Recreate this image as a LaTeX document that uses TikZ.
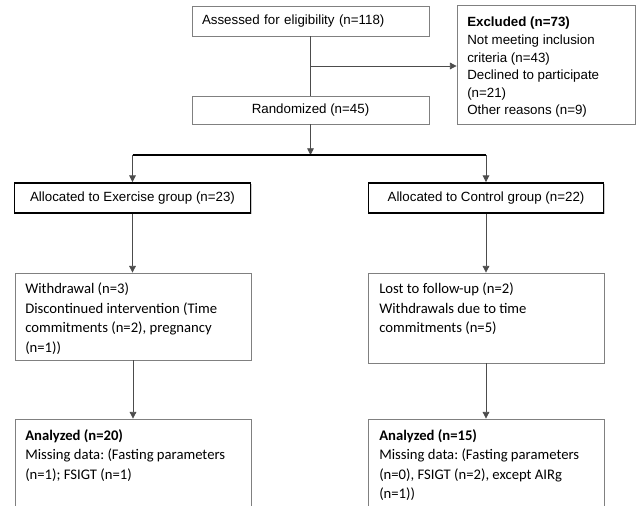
\documentclass[tikz,border=0pt]{standalone}
\usepackage{fontspec}
\setmainfont{Liberation Sans}
\newfontfamily\calibfont{Carlito}
\usetikzlibrary{arrows.meta,shadows}
\frenchspacing

\tikzset{
    box/.style={draw=black!50,line width=0.6pt,inner sep=0pt,font=\fontsize{10}{12}\selectfont},
    allocbox/.style={draw=black,fill=white,line width=1.4pt,inner sep=0pt,font=\fontsize{10}{12}\selectfont,
        drop shadow={shadow xshift=0.9pt,shadow yshift=-0.9pt,fill=black!35,opacity=0.6}},
    arialtxt/.style={anchor=north west,inner sep=0pt,align=left,font=\fontsize{10}{13.2}\selectfont},
    calibtxt/.style={anchor=north west,inner sep=0pt,align=left,font=\calibfont\fontsize{11}{14.6}\selectfont},
    ln/.style={draw=black!70,line width=0.6pt},
    arr/.style={ln,-{Triangle[length=5pt,width=5pt]}}
}

\begin{document}
\begin{tikzpicture}[x=0.75pt,y=-0.75pt]
    \useasboundingbox (0,0) rectangle (636,506);
    % enrolment
    \node[box,minimum height=22.5pt,text width=162.75pt,inner xsep=7.5pt,align=left] (assess) at (310.5,21) {Assessed for eligibility (n=118)};
    \node[box,minimum width=133.5pt,minimum height=89.25pt] (excl) at (546,64.5) {};
    \node[arialtxt] (excltxt) at (467,17) {\textbf{Excluded (n=73)}\\Not meeting inclusion\\criteria (n=43)\\Declined to participate\\(n=21)\\Other reasons (n=9)};
    \node[box,minimum width=177.75pt,minimum height=21pt] (rand) at (310.5,110) {Randomized (n=45)};
    \coordinate (branch) at (310.5,66);
    \coordinate (split) at (310.5,155);
    % allocation
    \node[allocbox,minimum width=177pt,minimum height=22.5pt] (exer) at (132.5,198) {Allocated to Exercise group (n=23)};
    \node[allocbox,minimum width=176.25pt,minimum height=22.5pt] (ctrl) at (486,198) {Allocated to Control group (n=22)};
    % follow-up
    \node[box,minimum width=177pt,minimum height=65.25pt] (wdex) at (133,316.5) {};
    \node[calibtxt] (wdextxt) at (25,283) {Withdrawal (n=3)\\Discontinued intervention (Time\\commitments (n=2), pregnancy\\(n=1))};
    \node[box,minimum width=177pt,minimum height=67.5pt] (wdct) at (486,318) {};
    \node[calibtxt] (wdcttxt) at (379,283) {Lost to follow-up (n=2)\\Withdrawals due to time\\commitments (n=5)};
    % analysis
    \node[box,minimum width=177pt,minimum height=69pt] (anex) at (133,465) {};
    \node[calibtxt] (anextxt) at (25,429) {\textbf{Analyzed (n=20)}\\Missing data: (Fasting parameters\\(n=1); FSIGT (n=1)};
    \node[box,minimum width=177pt,minimum height=69pt] (anct) at (486,465) {};
    \node[calibtxt] (ancttxt) at (379,429) {\textbf{Analyzed (n=15)}\\Missing data: (Fasting parameters\\(n=0), FSIGT (n=2), except AIRg\\(n=1))};
    % connectors
    \draw[ln] (assess) -- (rand);
    \draw[arr] (branch) -- (branch -| excl.west);
    \draw[arr] (rand) -- (split);
    \draw[line width=1.2pt] (exer.north |- split) -- (ctrl.north |- split);
    \draw[arr] (exer.north |- split) -- (exer);
    \draw[arr] (ctrl.north |- split) -- (ctrl);
    \draw[arr] (exer.south) -- (exer.south |- wdex.north);
    \draw[arr] (ctrl.south) -- (ctrl.south |- wdct.north);
    \draw[arr] (wdex.south) -- (wdex.south |- anex.north);
    \draw[arr] (wdct.south) -- (wdct.south |- anct.north);
\end{tikzpicture}
\end{document}
